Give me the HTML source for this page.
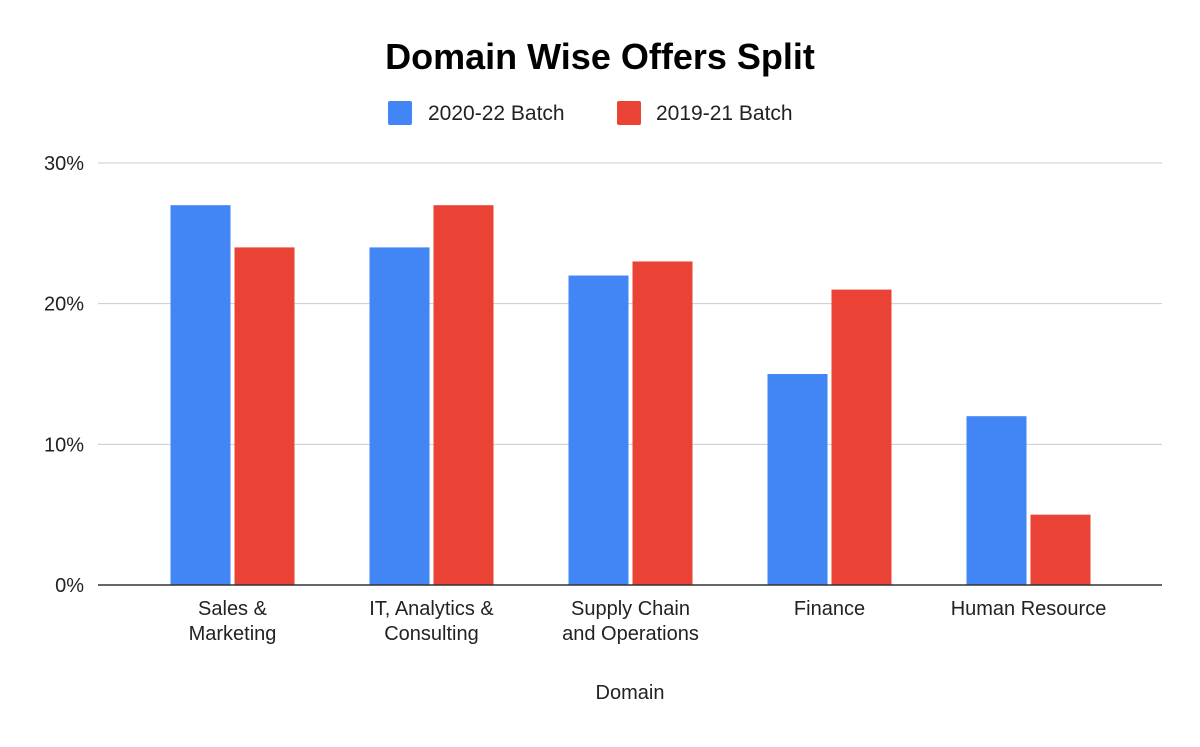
<!DOCTYPE html>
<html><head><meta charset="utf-8"><style>
body{margin:0;background:#fff;font-family:"Liberation Sans",Arial,sans-serif;}
svg text{font-family:"Liberation Sans",Arial,sans-serif;}
</style></head><body>
<svg id="chart" width="1200" height="742" xmlns="http://www.w3.org/2000/svg">
<rect width="1200" height="742" fill="#fff"/>
<text x="600" y="69" text-anchor="middle" font-size="36" font-weight="bold" fill="#000">Domain Wise Offers Split</text>
<g>
<g><rect x="388" y="101" width="24" height="24" rx="2" fill="#4285f4"/><text x="428" y="120" font-size="21" fill="#222">2020-22 Batch</text></g>
<g><rect x="617" y="101" width="24" height="24" rx="2" fill="#ea4335"/><text x="656" y="120" font-size="21" fill="#222">2019-21 Batch</text></g>
</g>
<g id="grid"></g>
<g id="yticks"></g>
<g id="bars"></g>
<g id="xlabels"></g>
<text x="630" y="699" text-anchor="middle" font-size="20" fill="#222">Domain</text>
</svg>
<script>
const categories=[["Sales &","Marketing"],["IT, Analytics &","Consulting"],["Supply Chain","and Operations"],["Finance"],["Human Resource"]];
const series2020=[27,24,22,15,12];
const series2019=[24,27,23,21,5];
const yTicks=[0,10,20,30];
const yTickLabels=["0%","10%","20%","30%"];
const NS="http://www.w3.org/2000/svg";
const y0=585,yTop=163,yMax=30;
function y(v){return y0-(v/yMax)*(y0-yTop);}
const gLeft=133,gW=199;
function xc(i){return gLeft+gW*(i+0.5);}
function mk(t,a,p){const e=document.createElementNS(NS,t);for(const k in a)e.setAttribute(k,a[k]);p.appendChild(e);return e;}
const grid=document.getElementById('grid'),yt=document.getElementById('yticks'),bars=document.getElementById('bars'),xl=document.getElementById('xlabels');
yTicks.forEach((v,i)=>{
 const l=mk('line',{x1:98,x2:1162,y1:y(v),y2:y(v),stroke:v===0?'#333':'#ccc','stroke-width':v===0?1.5:1},grid);
 
 
 const t=mk('text',{x:84,y:y(v)+7,'text-anchor':'end','font-size':20,fill:'#222'},yt);
 t.textContent=yTickLabels[i];
 
 
});
const bw=60,gap=4;
categories.forEach((c,i)=>{
 const cx=xc(i);
 const b1=mk('rect',{x:cx-gap/2-bw,y:y(series2020[i]),width:bw,height:y0-y(series2020[i]),fill:'#4285f4'},bars);
 
 
 const b2=mk('rect',{x:cx+gap/2,y:y(series2019[i]),width:bw,height:y0-y(series2019[i]),fill:'#ea4335'},bars);
 
 
 c.forEach((line,j)=>{
  const t=mk('text',{x:cx,y:615+j*25,'text-anchor':'middle','font-size':20,fill:'#222'},xl);
  t.textContent=line;
  
  
 });
});
bars.parentNode.appendChild(grid.lastChild===null?grid:grid.firstChild);
</script>
</body></html>
